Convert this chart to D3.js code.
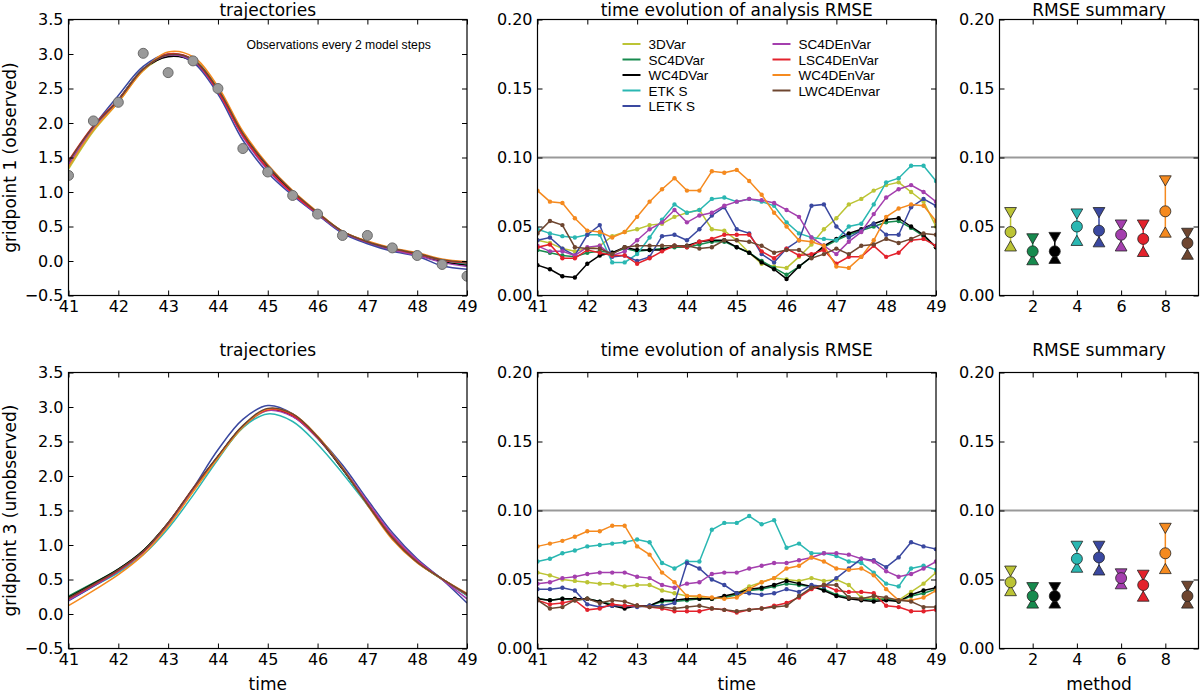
<!DOCTYPE html>
<html><head><meta charset="utf-8">
<script src="https://cdn.jsdelivr.net/npm/d3@7"></script>
<style>body{margin:0;background:#fff} svg{display:block}</style>
</head><body><svg id="c" width="1200" height="693"></svg>
<script>
// ---------- data ----------
const methods = ["3DVar","SC4DVar","WC4DVar","ETK S","LETK S","SC4DEnVar","LSC4DEnVar","WC4DEnVar","LWC4DEnvar"];
const colors  = ["#bcc435","#178a4e","#000000","#2ab7b2","#3a48a0","#a43fae","#e3222c","#f58a1f","#6e4630"];
const methodIndex = [1,2,3,4,5,6,7,8,9];

const trajTimes = [41,41.5,42,42.5,43,43.5,44,44.5,45,45.5,46,46.5,47,47.5,48,48.5,49];
const rmseTimes = [41,41.25,41.5,41.75,42,42.25,42.5,42.75,43,43.25,43.5,43.75,44,44.25,44.5,44.75,45,45.25,45.5,45.75,46,46.25,46.5,46.75,47,47.25,47.5,47.75,48,48.25,48.5,48.75,49];

const obsTimes  = [41,41.5,42,42.5,43,43.5,44,44.5,45,45.5,46,46.5,47,47.5,48,48.5,49];
const obsValues = [1.24,2.03,2.30,3.01,2.73,2.90,2.50,1.63,1.29,0.95,0.68,0.37,0.37,0.19,0.08,-0.05,-0.22];

// gridpoint 1 trajectories
const traj1_3DVar      = [1.33,1.88,2.30,2.76,2.97,2.92,2.50,1.86,1.38,1.00,0.70,0.43,0.28,0.17,0.10,0.00,-0.06];
const traj1_SC4DVar    = [1.38,1.92,2.33,2.78,2.97,2.90,2.48,1.83,1.36,0.99,0.69,0.42,0.27,0.16,0.09,0.00,-0.05];
const traj1_WC4DVar    = [1.40,1.93,2.34,2.78,2.96,2.89,2.47,1.84,1.37,0.99,0.68,0.42,0.27,0.16,0.09,-0.01,-0.06];
const traj1_ETKS       = [1.37,1.91,2.33,2.79,2.99,2.91,2.48,1.82,1.34,0.97,0.68,0.43,0.28,0.17,0.10,0.01,-0.04];
const traj1_LETKS      = [1.42,1.95,2.40,2.82,3.00,2.88,2.42,1.75,1.28,0.95,0.67,0.40,0.25,0.14,0.07,-0.07,-0.12];
const traj1_SC4DEnVar  = [1.40,1.93,2.32,2.78,2.98,2.90,2.45,1.80,1.32,0.97,0.68,0.42,0.27,0.16,0.08,-0.02,-0.08];
const traj1_LSC4DEnVar = [1.45,1.96,2.34,2.78,3.00,2.92,2.46,1.82,1.34,0.98,0.69,0.43,0.28,0.18,0.10,0.01,-0.03];
const traj1_WC4DEnVar  = [1.36,1.90,2.30,2.76,3.03,2.96,2.53,1.88,1.40,1.02,0.71,0.43,0.29,0.19,0.12,0.03,-0.01];
const traj1_LWC4DEnvar = [1.44,1.95,2.33,2.78,2.99,2.92,2.49,1.85,1.38,1.01,0.70,0.43,0.28,0.18,0.11,0.02,-0.02];

// gridpoint 3 trajectories
const traj3_3DVar      = [0.24,0.44,0.64,0.90,1.29,1.78,2.26,2.70,2.95,2.88,2.56,2.12,1.60,1.12,0.76,0.50,0.28];
const traj3_SC4DVar    = [0.26,0.45,0.65,0.92,1.32,1.81,2.28,2.72,2.96,2.87,2.55,2.10,1.59,1.11,0.75,0.50,0.27];
const traj3_WC4DVar    = [0.24,0.44,0.65,0.92,1.32,1.81,2.28,2.72,2.96,2.87,2.55,2.10,1.59,1.11,0.75,0.51,0.28];
const traj3_ETKS       = [0.20,0.40,0.60,0.86,1.24,1.72,2.24,2.70,2.90,2.79,2.46,2.04,1.58,1.12,0.77,0.51,0.27];
const traj3_LETKS      = [0.19,0.40,0.62,0.90,1.30,1.82,2.38,2.82,3.02,2.90,2.57,2.16,1.66,1.18,0.80,0.50,0.16];
const traj3_SC4DEnVar  = [0.20,0.41,0.62,0.90,1.30,1.80,2.28,2.72,2.95,2.86,2.55,2.12,1.63,1.15,0.78,0.50,0.22];
const traj3_LSC4DEnVar = [0.22,0.42,0.63,0.90,1.32,1.82,2.28,2.72,2.96,2.88,2.56,2.11,1.60,1.12,0.76,0.51,0.28];
const traj3_WC4DEnVar  = [0.12,0.34,0.57,0.86,1.27,1.77,2.26,2.71,2.97,2.90,2.58,2.12,1.58,1.08,0.74,0.51,0.30];
const traj3_LWC4DEnvar = [0.23,0.43,0.64,0.91,1.32,1.82,2.29,2.73,2.98,2.90,2.57,2.11,1.59,1.10,0.75,0.51,0.29];

// gridpoint 1 analysis RMSE
const rmse1_3DVar      = [0.040,0.038,0.034,0.032,0.034,0.036,0.043,0.046,0.048,0.051,0.052,0.057,0.060,0.062,0.048,0.047,0.040,0.031,0.023,0.021,0.020,0.028,0.037,0.048,0.056,0.066,0.070,0.076,0.080,0.082,0.075,0.068,0.050];
const rmse1_SC4DVar    = [0.033,0.031,0.029,0.028,0.031,0.032,0.031,0.034,0.032,0.033,0.034,0.035,0.035,0.037,0.039,0.039,0.035,0.031,0.025,0.020,0.015,0.021,0.028,0.035,0.040,0.044,0.047,0.050,0.053,0.054,0.049,0.043,0.035];
const rmse1_WC4DVar    = [0.022,0.019,0.014,0.013,0.023,0.029,0.031,0.035,0.033,0.033,0.033,0.036,0.036,0.039,0.040,0.040,0.035,0.031,0.024,0.019,0.012,0.021,0.028,0.036,0.041,0.045,0.048,0.052,0.055,0.056,0.050,0.044,0.035];
const rmse1_ETKS       = [0.048,0.045,0.043,0.042,0.044,0.044,0.024,0.024,0.030,0.042,0.055,0.066,0.060,0.062,0.070,0.071,0.068,0.070,0.068,0.065,0.053,0.045,0.042,0.041,0.040,0.050,0.052,0.066,0.082,0.085,0.094,0.094,0.083];
const rmse1_LETKS      = [0.040,0.042,0.034,0.029,0.044,0.051,0.028,0.029,0.025,0.028,0.043,0.044,0.040,0.048,0.058,0.064,0.048,0.045,0.030,0.024,0.034,0.040,0.065,0.066,0.050,0.042,0.047,0.052,0.044,0.044,0.064,0.070,0.065];
const rmse1_SC4DEnVar  = [0.036,0.032,0.032,0.029,0.035,0.036,0.029,0.032,0.040,0.048,0.053,0.062,0.053,0.058,0.060,0.065,0.068,0.070,0.069,0.067,0.062,0.057,0.042,0.036,0.030,0.039,0.046,0.059,0.071,0.077,0.080,0.075,0.068];
const rmse1_LSC4DEnVar = [0.035,0.037,0.027,0.027,0.033,0.031,0.029,0.029,0.023,0.027,0.032,0.036,0.035,0.039,0.041,0.044,0.044,0.044,0.032,0.027,0.034,0.029,0.030,0.033,0.023,0.028,0.028,0.036,0.028,0.031,0.040,0.041,0.036];
const rmse1_WC4DEnVar  = [0.076,0.068,0.067,0.056,0.047,0.046,0.042,0.046,0.057,0.068,0.077,0.085,0.076,0.076,0.090,0.089,0.091,0.083,0.073,0.060,0.050,0.040,0.039,0.036,0.021,0.020,0.028,0.040,0.057,0.063,0.066,0.065,0.054];
const rmse1_LWC4DEnvar = [0.045,0.054,0.051,0.035,0.034,0.034,0.030,0.035,0.036,0.036,0.036,0.036,0.036,0.034,0.035,0.040,0.040,0.039,0.036,0.031,0.033,0.033,0.027,0.030,0.034,0.030,0.036,0.037,0.041,0.038,0.041,0.045,0.044];

// gridpoint 3 analysis RMSE
const rmse3_3DVar      = [0.055,0.053,0.050,0.049,0.048,0.047,0.047,0.045,0.046,0.046,0.042,0.040,0.038,0.037,0.036,0.037,0.040,0.045,0.048,0.051,0.050,0.049,0.051,0.049,0.050,0.046,0.037,0.036,0.036,0.035,0.041,0.047,0.055];
const rmse3_SC4DVar    = [0.036,0.035,0.036,0.035,0.036,0.034,0.032,0.030,0.031,0.031,0.034,0.034,0.035,0.036,0.036,0.037,0.039,0.042,0.043,0.045,0.047,0.046,0.045,0.043,0.039,0.037,0.036,0.035,0.036,0.034,0.038,0.040,0.043];
const rmse3_WC4DVar    = [0.036,0.035,0.036,0.036,0.036,0.034,0.031,0.029,0.031,0.031,0.035,0.035,0.036,0.036,0.036,0.038,0.040,0.043,0.044,0.046,0.049,0.047,0.045,0.042,0.038,0.036,0.035,0.034,0.035,0.034,0.039,0.042,0.044];
const rmse3_ETKS       = [0.063,0.065,0.069,0.071,0.074,0.075,0.076,0.077,0.079,0.077,0.062,0.058,0.063,0.063,0.086,0.091,0.091,0.096,0.090,0.093,0.073,0.076,0.069,0.069,0.067,0.063,0.062,0.055,0.047,0.045,0.058,0.060,0.057];
const rmse3_LETKS      = [0.043,0.043,0.044,0.042,0.032,0.030,0.031,0.031,0.030,0.031,0.031,0.033,0.062,0.058,0.050,0.046,0.040,0.040,0.039,0.040,0.043,0.041,0.046,0.045,0.051,0.058,0.065,0.064,0.059,0.066,0.077,0.074,0.072];
const rmse3_SC4DEnVar  = [0.047,0.048,0.051,0.052,0.054,0.055,0.055,0.055,0.052,0.051,0.046,0.044,0.047,0.048,0.054,0.055,0.055,0.058,0.060,0.062,0.062,0.064,0.066,0.069,0.069,0.068,0.065,0.063,0.056,0.052,0.054,0.058,0.063];
const rmse3_LSC4DEnVar = [0.035,0.032,0.033,0.035,0.028,0.029,0.032,0.031,0.031,0.030,0.029,0.027,0.027,0.027,0.029,0.028,0.026,0.028,0.029,0.031,0.033,0.037,0.043,0.046,0.042,0.041,0.041,0.040,0.031,0.030,0.027,0.027,0.028];
const rmse3_WC4DEnVar  = [0.074,0.076,0.078,0.081,0.085,0.085,0.089,0.089,0.074,0.068,0.055,0.048,0.038,0.038,0.037,0.036,0.037,0.043,0.048,0.051,0.058,0.060,0.066,0.063,0.058,0.057,0.058,0.053,0.043,0.035,0.035,0.037,0.042];
const rmse3_LWC4DEnvar = [0.035,0.029,0.030,0.035,0.036,0.033,0.035,0.034,0.031,0.030,0.030,0.029,0.030,0.031,0.029,0.028,0.027,0.028,0.029,0.030,0.031,0.038,0.044,0.046,0.046,0.037,0.036,0.038,0.037,0.035,0.034,0.030,0.030];

// RMSE summary (mean, upper, lower)
const summary1Mean = [0.046,0.032,0.032,0.050,0.047,0.044,0.041,0.061,0.038];
const summary1Max  = [0.062,0.043,0.044,0.061,0.062,0.053,0.053,0.085,0.047];
const summary1Min  = [0.034,0.024,0.025,0.038,0.037,0.034,0.030,0.044,0.028];
const summary3Mean = [0.048,0.038,0.038,0.065,0.066,0.051,0.046,0.069,0.038];
const summary3Max  = [0.058,0.046,0.046,0.076,0.076,0.056,0.055,0.089,0.047];
const summary3Min  = [0.040,0.031,0.031,0.057,0.055,0.045,0.036,0.056,0.031];

// ticks
const timeTicks  = [41,42,43,44,45,46,47,48,49];
const trajTicks  = [-0.5,0,0.5,1,1.5,2,2.5,3,3.5];
const rmseTicks  = [0,0.05,0.1,0.15,0.2];
const methodTicks = [2,4,6,8];
const threshold = 0.10;

const traj1 = [traj1_3DVar,traj1_SC4DVar,traj1_WC4DVar,traj1_ETKS,traj1_LETKS,traj1_SC4DEnVar,traj1_LSC4DEnVar,traj1_WC4DEnVar,traj1_LWC4DEnvar];
const traj3 = [traj3_3DVar,traj3_SC4DVar,traj3_WC4DVar,traj3_ETKS,traj3_LETKS,traj3_SC4DEnVar,traj3_LSC4DEnVar,traj3_WC4DEnVar,traj3_LWC4DEnvar];
const rmse1 = [rmse1_3DVar,rmse1_SC4DVar,rmse1_WC4DVar,rmse1_ETKS,rmse1_LETKS,rmse1_SC4DEnVar,rmse1_LSC4DEnVar,rmse1_WC4DEnVar,rmse1_LWC4DEnvar];
const rmse3 = [rmse3_3DVar,rmse3_SC4DVar,rmse3_WC4DVar,rmse3_ETKS,rmse3_LETKS,rmse3_SC4DEnVar,rmse3_LSC4DEnVar,rmse3_WC4DEnVar,rmse3_LWC4DEnvar];

// ---------- drawing ----------
const svg = d3.select('#c');
const FONT = "'DejaVu Sans', sans-serif";
const SANS = "'Liberation Sans', Arial, sans-serif";
let clipN = 0;

function panel(o) {
  const g = svg.append('g').attr('transform', `translate(${o.x},${o.y})`);
  const x = d3.scaleLinear().domain(o.xd).range([0, o.w]);
  const y = d3.scaleLinear().domain(o.yd).range([o.h, 0]);
  const id = 'clip' + (clipN++);
  g.append('clipPath').attr('id', id).append('rect').attr('width', o.w).attr('height', o.h);
  const plot = g.append('g').attr('clip-path', `url(#${id})`);
  const ax = (gen, tr) => {
    const a = g.append('g').attr('transform', tr).call(gen);
    a.select('.domain').remove();
    a.selectAll('line').attr('stroke', '#000').attr('stroke-width', 1);
    a.selectAll('text').attr('font-family', FONT).attr('font-size', 16).attr('fill', '#000');
    return a;
  };
  ax(d3.axisBottom(x).tickValues(o.xt).tickSize(-5).tickPadding(5).tickFormat(o.xf), `translate(0,${o.h})`);
  ax(d3.axisTop(x).tickValues(o.xt).tickSize(-5).tickFormat(''), 'translate(0,0)');
  ax(d3.axisLeft(y).tickValues(o.yt).tickSize(-5).tickPadding(5).tickFormat(o.yf), 'translate(0,0)');
  ax(d3.axisRight(y).tickValues(o.yt).tickSize(-5).tickFormat(''), `translate(${o.w},0)`);
  g.append('text').attr('x', o.w / 2).attr('y', o.titleY).attr('text-anchor', 'middle')
    .attr('font-family', FONT).attr('font-size', 17).text(o.title);
  if (o.xlabel) g.append('text').attr('x', o.w / 2).attr('y', 690 - o.y).attr('text-anchor', 'middle')
    .attr('font-family', FONT).attr('font-size', 17).text(o.xlabel);
  if (o.ylabel) g.append('text').attr('transform', `translate(${15.5 - o.x},${o.h / 2}) rotate(-90)`)
    .attr('text-anchor', 'middle').attr('font-family', FONT).attr('font-size', 17).text(o.ylabel);
  const frame = () => g.append('rect').attr('width', o.w).attr('height', o.h)
    .attr('fill', 'none').attr('stroke', '#000').attr('stroke-width', 1.2);
  return { g, plot, x, y, frame };
}

const rows = [
  { y: 19.5, h: 276, titleY: -3.5, traj: traj1, rmse: rmse1, sMean: summary1Mean, sMax: summary1Max, sMin: summary1Min,
    ylabel: 'gridpoint 1 (observed)', obs: true, legend: true, xlabel: null },
  { y: 372.5, h: 276, titleY: -17, traj: traj3, rmse: rmse3, sMean: summary3Mean, sMax: summary3Max, sMin: summary3Min,
    ylabel: 'gridpoint 3 (unobserved)', obs: false, legend: false, xlabel: true }
];

const f1 = d3.format('.1f'), f2 = d3.format('.2f'), fd = d3.format('d');

rows.forEach(r => {
  // trajectories
  const p1 = panel({ x: 68.5, y: r.y, w: 398.5, h: r.h, xd: [41, 49], yd: [-0.5, 3.5], xt: timeTicks, yt: trajTicks,
    xf: fd, yf: f1, title: 'trajectories', titleY: r.titleY, ylabel: r.ylabel, xlabel: r.xlabel ? 'time' : null });
  const line1 = d3.line().x((d, i) => p1.x(trajTimes[i])).y(d => p1.y(d)).curve(d3.curveCatmullRom.alpha(0.5));
  r.traj.forEach((s, k) => {
    p1.plot.append('path').attr('d', line1(s)).attr('fill', 'none').attr('stroke', colors[k]).attr('stroke-width', 1.5);
  });
  if (r.obs) {
    p1.plot.selectAll('circle.obs').data(obsValues).join('circle')
      .attr('cx', (d, i) => p1.x(obsTimes[i])).attr('cy', d => p1.y(d)).attr('r', 5)
      .attr('fill', '#9a9a9a').attr('stroke', '#6a6a6a').attr('stroke-width', 1);
    p1.g.append('text').attr('x', 178).attr('y', 29.5).attr('font-family', SANS).attr('font-size', 12.2)
      .text('Observations every 2 model steps');
  }
  p1.frame();

  // RMSE time evolution
  const p2 = panel({ x: 537.5, y: r.y, w: 398.5, h: r.h, xd: [41, 49], yd: [0, 0.2], xt: timeTicks, yt: rmseTicks,
    xf: fd, yf: f2, title: 'time evolution of analysis RMSE', titleY: r.titleY, xlabel: r.xlabel ? 'time' : null });
  p2.plot.append('line').attr('x1', 0).attr('x2', 398.5).attr('y1', p2.y(threshold)).attr('y2', p2.y(threshold))
    .attr('stroke', '#999').attr('stroke-width', 2);
  const line2 = d3.line().x((d, i) => p2.x(rmseTimes[i])).y(d => p2.y(d));
  r.rmse.forEach((s, k) => {
    const gg = p2.plot.append('g');
    gg.append('path').attr('d', line2(s)).attr('fill', 'none').attr('stroke', colors[k]).attr('stroke-width', 1.5);
    gg.selectAll('circle').data(s).join('circle').attr('cx', (d, i) => p2.x(rmseTimes[i])).attr('cy', d => p2.y(d))
      .attr('r', 2.2).attr('fill', colors[k]);
  });
  if (r.legend) {
    const lg = p2.g.append('g');
    methods.forEach((m, k) => {
      const col = k < 5 ? 0 : 1, row = k < 5 ? k : k - 5;
      const lx = col === 0 ? 85 : 235, ly = 24.5 + row * 15.5;
      lg.append('line').attr('x1', lx).attr('x2', lx + 18).attr('y1', ly).attr('y2', ly)
        .attr('stroke', colors[k]).attr('stroke-width', 2);
      lg.append('text').attr('x', lx + 26).attr('y', ly + 5).attr('font-family', SANS).attr('font-size', 13.5).text(m);
    });
  }
  p2.frame();

  // RMSE summary
  const p3 = panel({ x: 999.5, y: r.y, w: 199, h: r.h, xd: [0.5, 9.5], yd: [0, 0.2], xt: methodTicks, yt: rmseTicks,
    xf: fd, yf: f2, title: 'RMSE summary', titleY: r.titleY, xlabel: r.xlabel ? 'method' : null });
  p3.plot.append('line').attr('x1', 0).attr('x2', 199).attr('y1', p3.y(threshold)).attr('y2', p3.y(threshold))
    .attr('stroke', '#999').attr('stroke-width', 2);
  const tri = d3.symbol(d3.symbolTriangle, 60);
  methodIndex.forEach((m, k) => {
    const cx = p3.x(m);
    p3.plot.append('line').attr('x1', cx).attr('x2', cx).attr('y1', p3.y(r.sMin[k])).attr('y2', p3.y(r.sMax[k]))
      .attr('stroke', colors[k]).attr('stroke-width', 1.5);
    p3.plot.append('path').attr('d', tri()).attr('transform', `translate(${cx},${p3.y(r.sMax[k]) + 1}) rotate(180)`)
      .attr('fill', colors[k]).attr('stroke', '#222').attr('stroke-width', 0.8);
    p3.plot.append('path').attr('d', tri()).attr('transform', `translate(${cx},${p3.y(r.sMin[k]) - 1})`)
      .attr('fill', colors[k]).attr('stroke', '#222').attr('stroke-width', 0.8);
    p3.plot.append('circle').attr('cx', cx).attr('cy', p3.y(r.sMean[k])).attr('r', 5.5)
      .attr('fill', colors[k]).attr('stroke', '#222').attr('stroke-width', 0.8);
  });
  p3.frame();
});
</script>
</body></html>
